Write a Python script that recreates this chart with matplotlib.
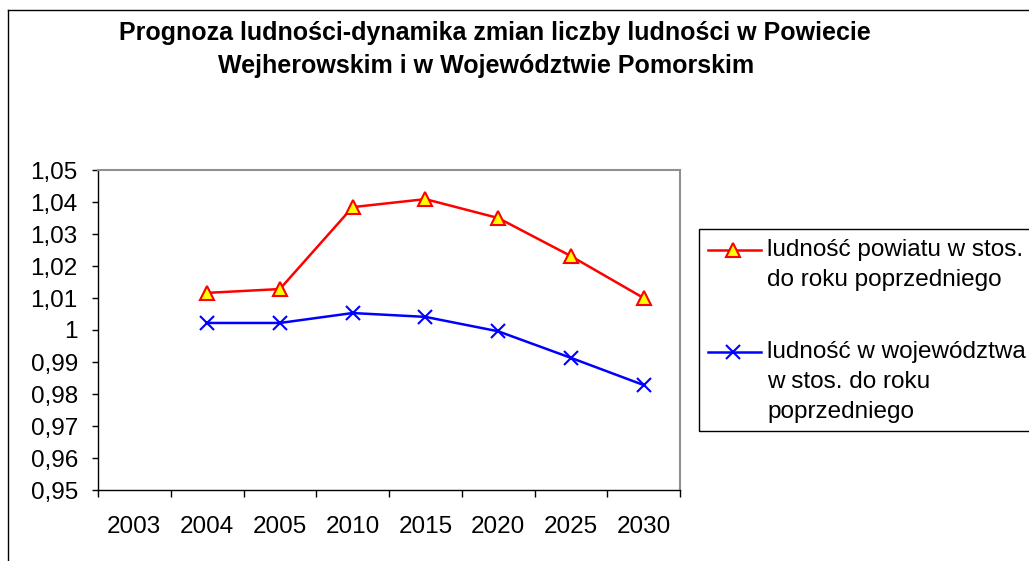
import matplotlib
matplotlib.use("Agg")
import matplotlib.pyplot as plt
from matplotlib.lines import Line2D
from matplotlib.patches import Rectangle

plt.rcParams["font.family"] = ["Liberation Sans", "DejaVu Sans"]

# data
years = ["2003", "2004", "2005", "2010", "2015", "2020", "2025", "2030"]
powiat = [1.0116, 1.0128, 1.0384, 1.0409, 1.0350, 1.0231, 1.0100]
wojewodztwo = [1.0022, 1.0022, 1.0053, 1.0041, 0.9996, 0.9913, 0.9828]
y_ticks = [0.95, 0.96, 0.97, 0.98, 0.99, 1.00, 1.01, 1.02, 1.03, 1.04, 1.05]
y_labels = ["0,95", "0,96", "0,97", "0,98", "0,99", "1", "1,01", "1,02", "1,03", "1,04", "1,05"]
title_lines = ["Prognoza ludności-dynamika zmian liczby ludności w Powiecie",
               "Wejherowskim i w Województwie Pomorskim"]
legend_lines = [["ludność powiatu w stos.", "do roku poprzedniego"],
                ["ludność w województwa", "w stos. do roku", "poprzedniego"]]

W, H = 1029, 561
FS = 17.5
fig = plt.figure(figsize=(W / 100, H / 100), dpi=100)
ax = fig.add_axes([98 / W, 1 - 490 / H, (680 - 98) / W, (490 - 170) / H])

red_style = dict(color="#ff0000", lw=1.8, marker="^", ms=10,
                 mfc="#ffff00", mec="#ff0000", mew=1.5)
blue_style = dict(color="#0000ff", lw=1.8, marker="x", ms=10, mew=1.5)

xs = list(range(1, len(years)))
ax.plot(xs, powiat, clip_on=False, **red_style)
ax.plot(xs, wojewodztwo, clip_on=False, **blue_style)

ax.set_xlim(-0.5, len(years) - 0.5)
ax.set_ylim(0.95, 1.05)
ax.set_yticks(y_ticks)
ax.set_yticklabels(y_labels, fontsize=FS)
ax.set_xticks([i - 0.5 for i in range(len(years) + 1)])
ax.set_xticklabels([])
ax.set_xticks(range(len(years)), minor=True)
ax.set_xticklabels(years, minor=True, fontsize=FS)
ax.tick_params(axis="x", which="minor", length=0, pad=19)
ax.tick_params(axis="x", which="major", length=5, direction="out", width=1)
ax.tick_params(axis="y", length=4.5, direction="out", width=1, pad=10)

for s in ("top", "right"):
    ax.spines[s].set_color("#909090")
    ax.spines[s].set_linewidth(1.5)
for s in ("left", "bottom"):
    ax.spines[s].set_color("black")
    ax.spines[s].set_linewidth(1)

for (cx, cy), line in zip([(495, 33), (486, 66)], title_lines):
    fig.text(cx / W, 1 - cy / H, line, ha="center", va="center",
             fontsize=18, fontweight="bold")

# legend, drawn by hand so that the handle sits on the first text line
fig.add_artist(Rectangle((699 / W, 1 - 431 / H), 0.5, (431 - 229) / H,
                         transform=fig.transFigure, fill=False,
                         edgecolor="black", lw=1))
for first_y, style, lines in zip([250, 352], [red_style, blue_style], legend_lines):
    fig.add_artist(Line2D([708 / W, 761 / W], [1 - first_y / H] * 2,
                          transform=fig.transFigure,
                          **{k: v for k, v in style.items() if k != "marker"}))
    fig.add_artist(Line2D([733 / W], [1 - first_y / H], transform=fig.transFigure,
                          ls="none", **{k: v for k, v in style.items() if k not in ("lw",)}))
    for i, t in enumerate(lines):
        fig.text(767 / W, 1 - (first_y + 30 * i) / H, t, ha="left", va="center",
                 fontsize=FS)

# outer chart frame (cut by the image edge)
fig.add_artist(Line2D([8 / W, 1], [1 - 10 / H, 1 - 10 / H], color="black", lw=1, transform=fig.transFigure))
fig.add_artist(Line2D([8 / W, 8 / W], [0, 1 - 10 / H], color="black", lw=1, transform=fig.transFigure))

fig.savefig("out.png", dpi=100)
